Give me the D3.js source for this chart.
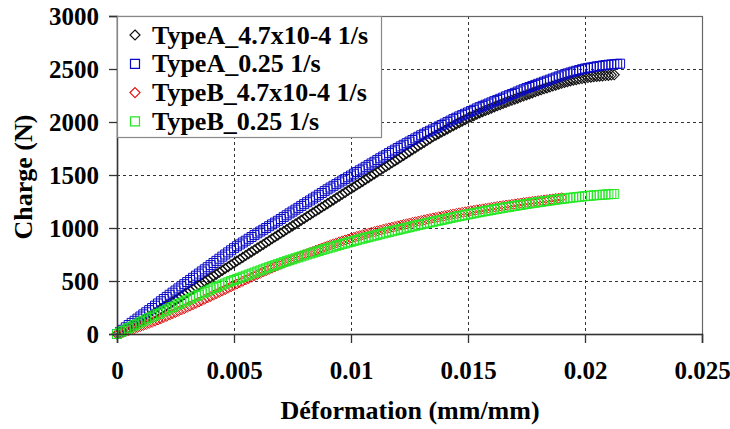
<!DOCTYPE html>
<html>
<head>
<meta charset="utf-8">
<script src="https://cdn.jsdelivr.net/npm/d3@7/dist/d3.min.js"></script>
<style>
html,body{margin:0;padding:0;background:#fff;}
svg{display:block;}
</style>
</head>
<body>
<svg id="chart" width="730" height="429"></svg>
<script>
// ---- data ----
const strain = [
0,0.000125,0.00025,0.000375,0.0005,0.000625,0.00075,0.000875,
0.001,0.001125,0.00125,0.001375,0.0015,0.001625,0.00175,0.001875,
0.002,0.002125,0.00225,0.002375,0.0025,0.002625,0.00275,0.002875,
0.003,0.003125,0.00325,0.003375,0.0035,0.003625,0.00375,0.003875,
0.004,0.004125,0.00425,0.004375,0.0045,0.004625,0.00475,0.004875,
0.005,0.005125,0.00525,0.005375,0.0055,0.005625,0.00575,0.005875,
0.006,0.006125,0.00625,0.006375,0.0065,0.006625,0.00675,0.006875,
0.007,0.007125,0.00725,0.007375,0.0075,0.007625,0.00775,0.007875,
0.008,0.008125,0.00825,0.008375,0.0085,0.008625,0.00875,0.008875,
0.009,0.009125,0.00925,0.009375,0.0095,0.009625,0.00975,0.009875,
0.01,0.010125,0.01025,0.010375,0.0105,0.010625,0.01075,0.010875,
0.011,0.011125,0.01125,0.011375,0.0115,0.011625,0.01175,0.011875,
0.012,0.012125,0.01225,0.012375,0.0125,0.012625,0.01275,0.012875,
0.013,0.013125,0.01325,0.013375,0.0135,0.013625,0.01375,0.013875,
0.014,0.014125,0.01425,0.014375,0.0145,0.014625,0.01475,0.014875,
0.015,0.015125,0.01525,0.015375,0.0155,0.015625,0.01575,0.015875,
0.016,0.016125,0.01625,0.016375,0.0165,0.016625,0.01675,0.016875,
0.017,0.017125,0.01725,0.017375,0.0175,0.017625,0.01775,0.017875,
0.018,0.018125,0.01825,0.018375,0.0185,0.018625,0.01875,0.018875,
0.019,0.019125,0.01925,0.019375,0.0195,0.019625,0.01975,0.019875,
0.02,0.020125,0.02025,0.020375,0.0205,0.020625,0.02075,0.020875,
0.021,0.021125,0.02125,0.021375,0.0215];

const loadA_slow = [
0,12,25,40,55,70,85,100,
115,132,148,164,180,198,215,233,
250,268,285,303,320,338,355,373,
390,408,425,443,460,478,495,513,
530,548,565,583,600,618,635,653,
670,688,705,723,740,758,775,793,
810,828,845,863,880,898,915,933,
950,968,985,1003,1020,1038,1055,1073,
1090,1108,1125,1143,1160,1178,1195,1213,
1230,1248,1265,1283,1300,1318,1335,1353,
1370,1388,1405,1423,1440,1458,1475,1493,
1510,1528,1545,1563,1580,1598,1615,1633,
1650,1668,1685,1703,1720,1738,1755,1773,
1790,1808,1825,1843,1860,1875,1890,1905,
1920,1935,1950,1965,1980,1994,2008,2022,
2035,2048,2060,2073,2085,2097,2108,2119,
2130,2142,2153,2164,2175,2185,2195,2205,
2215,2225,2235,2245,2255,2265,2275,2285,
2295,2304,2313,2322,2330,2339,2348,2357,
2365,2373,2380,2388,2395,2400,2405,2410,
2415,2419,2423,2427,2430,2433,2435,2438,
2440,2443,2445];

const loadA_fast = [
0,20,40,63,85,105,125,145,
165,185,205,225,245,267,288,309,
330,350,370,390,410,430,450,470,
490,510,530,550,570,590,610,630,
650,670,690,710,730,750,770,790,
810,828,845,863,880,898,915,933,
950,967,983,1000,1017,1034,1051,1068,
1085,1103,1120,1138,1155,1173,1190,1208,
1225,1243,1260,1278,1295,1313,1330,1348,
1365,1382,1398,1414,1430,1447,1463,1479,
1495,1512,1528,1544,1560,1577,1593,1609,
1625,1642,1658,1674,1690,1707,1723,1739,
1755,1770,1785,1800,1815,1830,1845,1860,
1875,1889,1903,1917,1930,1944,1958,1972,
1985,1999,2013,2027,2040,2053,2065,2078,
2090,2103,2115,2128,2140,2152,2163,2174,
2185,2197,2208,2219,2230,2242,2253,2264,
2275,2287,2298,2309,2320,2330,2340,2350,
2360,2370,2380,2390,2400,2410,2420,2430,
2440,2449,2458,2467,2475,2483,2490,2498,
2505,2510,2515,2520,2525,2529,2533,2537,
2540,2543,2545,2548,2550];

const loadB_slow = [
0,7,15,23,32,41,50,60,
70,80,90,100,110,121,132,143,
155,166,178,190,202,214,226,238,
251,263,276,288,301,314,327,340,
353,366,379,392,405,418,432,445,
458,471,484,497,510,522,535,548,
560,572,585,597,609,621,633,645,
657,668,680,691,703,714,726,737,
748,759,770,780,791,801,812,822,
832,842,851,860,870,879,888,896,
905,913,921,929,937,944,952,960,
967,974,981,988,995,1001,1008,1014,
1021,1027,1034,1040,1047,1053,1059,1065,
1071,1077,1083,1089,1095,1100,1106,1111,
1117,1122,1128,1133,1138,1143,1148,1153,
1158,1163,1168,1172,1177,1181,1186,1190,
1195,1199,1204,1208,1212,1216,1220,1224,
1228,1232,1236,1240,1244,1247,1251,1254,
1258,1261,1265,1268,1272,1275,1279,1282,
1286];

const loadB_fast = [
0,14,28,42,55,69,83,97,
110,124,137,150,163,176,189,202,
215,229,242,255,268,281,294,307,
320,333,345,358,370,383,395,408,
420,432,443,455,466,477,488,499,
510,520,530,540,550,560,570,580,
590,600,610,620,630,640,649,659,
668,678,687,696,705,714,723,732,
741,750,758,767,775,784,792,800,
808,816,824,832,840,848,855,863,
870,878,885,893,900,907,914,921,
928,935,942,949,956,963,969,976,
982,989,995,1002,1008,1015,1021,1028,
1034,1040,1046,1052,1058,1064,1070,1076,
1082,1088,1094,1100,1106,1112,1117,1123,
1128,1134,1139,1145,1150,1155,1160,1165,
1170,1175,1180,1185,1190,1195,1199,1204,
1208,1213,1217,1222,1226,1231,1235,1239,
1243,1247,1251,1255,1259,1263,1267,1271,
1274,1278,1281,1285,1288,1291,1294,1297,
1300,1303,1305,1308,1310,1312,1314,1316,
1318,1320,1321];

const seriesNames = ["TypeA_4.7x10-4 1/s","TypeA_0.25 1/s","TypeB_4.7x10-4 1/s","TypeB_0.25 1/s"];
const xTicks = [0,0.005,0.01,0.015,0.02,0.025];
const xTickLabels = ["0","0.005","0.01","0.015","0.02","0.025"];
const yTicks = [0,500,1000,1500,2000,2500,3000];
const xTitle = "Déformation (mm/mm)";
const yTitle = "Charge (N)";

// ---- layout ----
const FONT = "'Liberation Serif','Times New Roman',Times,serif";
const L = 117, R = 702, T = 16, B = 334;
const svg = d3.select("#chart");
const x = d3.scaleLinear().domain([0,0.025]).range([L,R]);
const y = d3.scaleLinear().domain([0,3000]).range([B,T]);

const series = [
  {name: seriesNames[0], load: loadA_slow, shape: "diamond", color: "#111111", sw: 1.1},
  {name: seriesNames[1], load: loadA_fast, shape: "square", color: "#0808c8", sw: 1},
  {name: seriesNames[2], load: loadB_slow, shape: "diamond", color: "#e01010", sw: 1},
  {name: seriesNames[3], load: loadB_fast, shape: "square", color: "#22e822", sw: 1}
];
const shapePath = {
  diamond: "M0,-5L5,0L0,5L-5,0Z",
  square: "M-4.5,-4.5H4.5V4.5H-4.5Z"
};

// grid
const grid = svg.append("g");
grid.selectAll("line.vg").data(xTicks.slice(1,-1)).join("line")
  .attr("x1", d=>Math.round(x(d))+0.5).attr("x2", d=>Math.round(x(d))+0.5)
  .attr("y1", T).attr("y2", B)
  .attr("stroke","#333").attr("stroke-width",1).attr("stroke-dasharray","3,3");
grid.selectAll("line.hg").data(yTicks.slice(1,-1)).join("line")
  .attr("y1", d=>Math.round(y(d))+0.5).attr("y2", d=>Math.round(y(d))+0.5)
  .attr("x1", L).attr("x2", R)
  .attr("stroke","#333").attr("stroke-width",1).attr("stroke-dasharray","3,3");

// frame top/right
svg.append("rect").attr("x",L+0.5).attr("y",T+0.5).attr("width",R-L).attr("height",B-T)
  .attr("fill","none").attr("stroke","#666").attr("stroke-width",1.2);

// markers
series.forEach(s => {
  svg.append("g").selectAll("path").data(s.load.map((v,i)=>[strain[i],v])).join("path")
    .attr("transform", d=>`translate(${x(d[0])},${y(d[1])})`)
    .attr("d", shapePath[s.shape])
    .attr("fill","none").attr("stroke", s.color).attr("stroke-width",s.sw);
});

// axes
const xAxis = svg.append("g").attr("transform",`translate(0,${B})`)
  .call(d3.axisBottom(x).tickValues(xTicks).tickFormat((d,i)=>xTickLabels[i]).tickSize(9).tickPadding(18));
const yAxis = svg.append("g").attr("transform",`translate(${L},0)`)
  .call(d3.axisLeft(y).tickValues(yTicks).tickFormat(d3.format("d")).tickSize(8).tickPadding(10));
[xAxis,yAxis].forEach(a=>{
  a.attr("font-size",null).attr("font-family",null);
  a.select(".domain").attr("stroke","#333").attr("stroke-width",1.5);
  a.selectAll(".tick line").attr("stroke","#333").attr("stroke-width",1.3);
  a.selectAll(".tick text").attr("fill","#000")
    .style("font-family",FONT).style("font-weight","bold").style("font-size","25px");
});

// legend
const lg = svg.append("g");
lg.append("rect").attr("x",117.5).attr("y",16.5).attr("width",264).attr("height",121)
  .attr("fill","#fff").attr("stroke","#888").attr("stroke-width",1.2);
series.forEach((s,i)=>{
  const cy = 35 + i*28.8;
  lg.append("path").attr("transform",`translate(135,${cy})`).attr("d",shapePath[s.shape])
    .attr("fill","none").attr("stroke",s.color).attr("stroke-width",1.2);
  lg.append("text").attr("x",152).attr("y",cy+8.5)
    .style("font-family",FONT).style("font-weight","bold").style("font-size","26px").text(s.name);
});

// titles
svg.append("text").attr("x",410).attr("y",419).attr("text-anchor","middle")
  .style("font-family",FONT).style("font-weight","bold").style("font-size","26px").text(xTitle);
svg.append("text").attr("transform","translate(32,177) rotate(-90)").attr("text-anchor","middle")
  .style("font-family",FONT).style("font-weight","bold").style("font-size","26px").text(yTitle);
</script>
</body>
</html>
